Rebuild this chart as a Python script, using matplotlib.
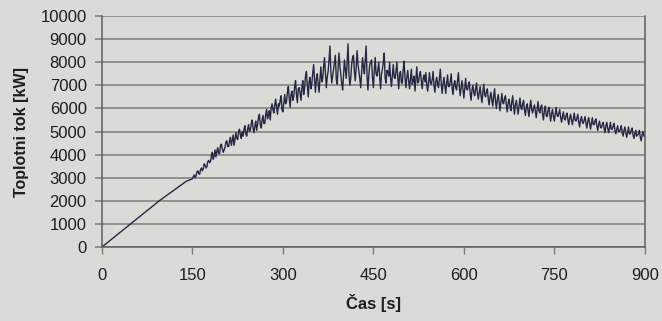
import numpy as np
import matplotlib
matplotlib.use('Agg')
import matplotlib.pyplot as plt

# ── Data ──────────────────────────────────────────────────────────────────────
# smooth ramp at the start
t_ramp = [0, 45, 95, 140]
q_ramp = [0, 950, 2000, 2850]

# noisy part, one value every 3 s from 150 s to 900 s (rows = 30 s)
t_noisy = np.arange(150, 901, 3)
q_noisy = [
    2950, 3120, 3080, 3300, 3150, 3420, 3400, 3550, 3480, 3750,   # 150
    3700, 4100, 3950, 3900, 4300, 4050, 4450, 4100, 4300, 4600,   # 180
    4350, 4750, 4600, 4400, 4950, 4650, 5100, 4700, 4800, 5250,   # 210
    4800, 5300, 5050, 5500, 4950, 5450, 5300, 5750, 5150, 5700,   # 240
    5350, 5950, 5700, 5500, 6200, 5800, 6400, 5750, 6100, 6550,   # 270
    5850, 6600, 6300, 6950, 6050, 6750, 6500, 7200, 6250, 6900,   # 300
    6350, 7200, 6900, 7600, 6500, 7350, 7050, 7900, 6700, 7500,   # 330
    6700, 7800, 7300, 8200, 6900, 7600, 8700, 7100, 7700, 8300,   # 360
    7050, 8400, 7500, 6800, 8100, 7300, 8800, 7000, 7900, 8300,   # 390
    7200, 8500, 7600, 6900, 8200, 7500, 8700, 6800, 7900, 8100,   # 420
    6900, 8200, 7400, 8000, 6850, 7700, 8400, 7100, 7600, 8000,   # 450
    6950, 7900, 7300, 8000, 6850, 7600, 7100, 8050, 6900, 7650,   # 480
    6850, 7700, 7200, 6750, 7800, 7150, 7600, 6850, 7450, 7550,   # 510
    6750, 7550, 7050, 7600, 6700, 7350, 6900, 7700, 6650, 7350,   # 540
    6650, 7450, 6950, 7500, 6600, 7200, 6800, 7550, 6550, 7200,   # 570
    6450, 7300, 6800, 7150, 6350, 7000, 6550, 7100, 6400, 6950,   # 600
    6250, 7050, 6500, 6850, 6150, 6700, 6100, 6850, 6000, 6600,   # 630
    5900, 6650, 6200, 6550, 5850, 6400, 5900, 6550, 5750, 6350,   # 660
    5750, 6450, 5950, 6350, 5700, 6200, 5650, 6350, 5800, 6150,   # 690
    5600, 6300, 5800, 6150, 5500, 6100, 5650, 6050, 5450, 5950,   # 720
    5450, 6050, 5650, 5950, 5400, 5850, 5500, 5800, 5300, 5750,   # 750
    5300, 5800, 5450, 5750, 5200, 5650, 5350, 5650, 5150, 5600,   # 780
    5100, 5600, 5300, 5550, 5050, 5450, 5150, 5400, 4950, 5400,   # 810
    4950, 5400, 5100, 5350, 4900, 5250, 5000, 5250, 4800, 5200,   # 840
    4750, 5200, 4900, 5150, 4700, 5050, 4850, 5050, 4600, 5000,   # 870
    4800,                                                         # 900
]

# in-between samples, at 151.5 s, 154.5 s, ... 898.5 s
t_mid = np.arange(151.5, 900, 3)
q_mid = [
    3050, 3000, 3250, 3180, 3350, 3300, 3600, 3420, 3700, 3650,   # 150
    3950, 3800, 4200, 4150, 4050, 4400, 4250, 4200, 4550, 4350,   # 180
    4600, 4400, 4850, 4650, 4700, 5000, 4850, 5000, 5100, 4900,   # 210
    5100, 5000, 5350, 5150, 5250, 5050, 5600, 5300, 5500, 5350,   # 240
    5750, 5550, 5900, 6000, 5950, 6150, 6050, 6200, 6350, 5950,   # 270
    6250, 6200, 6700, 6450, 6600, 6350, 6950, 6600, 6850, 6650,   # 300
    6900, 6600, 7400, 7000, 7150, 6850, 7550, 7250, 7300, 7050,   # 330
    7300, 7150, 7800, 7550, 7350, 8100, 7600, 7400, 8000, 7250,   # 360
    7700, 7850, 7100, 7400, 7700, 8000, 7500, 7300, 8200, 7600,   # 390
    7800, 7900, 7300, 7550, 7800, 8100, 7400, 7450, 8000, 7350,   # 420
    7600, 7500, 7700, 7350, 7500, 8000, 7300, 7650, 7400, 7300,   # 450
    7400, 7350, 7600, 7300, 7500, 7100, 7700, 7300, 7350, 7200,   # 480
    7300, 7050, 7400, 7250, 7100, 7450, 7200, 7300, 7150, 7000,   # 510
    7150, 7100, 7250, 7000, 7150, 7050, 7300, 7100, 7050, 7000,   # 540
    7100, 6950, 7150, 6900, 7050, 6900, 7200, 6950, 6900, 6850,   # 570
    6900, 6850, 7000, 6650, 6800, 6700, 6850, 6650, 6700, 6550,   # 600
    6700, 6600, 6750, 6400, 6500, 6350, 6550, 6300, 6400, 6250,   # 630
    6300, 6250, 6450, 6150, 6250, 6100, 6300, 6100, 6150, 6050,   # 660
    6100, 6050, 6200, 5950, 6050, 5900, 6100, 5950, 6000, 5900,   # 690
    5950, 5900, 6050, 5750, 5900, 5700, 5900, 5700, 5800, 5650,   # 720
    5750, 5700, 5800, 5600, 5650, 5550, 5700, 5500, 5600, 5500,   # 750
    5550, 5500, 5600, 5400, 5500, 5400, 5500, 5350, 5450, 5350,   # 780
    5350, 5300, 5450, 5250, 5300, 5200, 5300, 5150, 5250, 5150,   # 810
    5150, 5100, 5250, 5050, 5100, 5000, 5100, 4950, 5050, 4950,   # 840
    4950, 4900, 5050, 4850, 4900, 4800, 4900, 4750, 4850, 4800,   # 870
]

x_ticks = np.arange(0, 901, 150)
y_ticks = np.arange(0, 10001, 1000)

t = np.concatenate([t_ramp, t_noisy, t_mid])
q = np.concatenate([q_ramp, q_noisy, q_mid])
order = np.argsort(t)
t, q = t[order], q[order]

# ── Figure ────────────────────────────────────────────────────────────────────
plt.rcParams['font.family'] = ['Liberation Sans', 'DejaVu Sans']
bg = '#d9dbd6'
grid_c = '#7c7e7c'

fig = plt.figure(figsize=(6.62, 3.21), dpi=100, facecolor=bg)
ax = fig.add_axes([0.154, 0.2305, 0.82, 0.7195], facecolor=bg)

ax.plot(t, q, color='#252842', linewidth=1.0)

ax.set_xlim(0, 900)
ax.set_ylim(0, 10000)
ax.set_xticks(x_ticks)
ax.set_yticks(y_ticks)
ax.grid(axis='y', color=grid_c, linewidth=1.1)
ax.set_axisbelow(True)

ax.tick_params(axis='x', direction='out', length=5, width=1, color=grid_c,
               pad=10, labelsize=12, labelcolor='#1e1e1e')
ax.tick_params(axis='y', direction='out', length=5, width=1.1, color=grid_c,
               pad=6, labelsize=12, labelcolor='#1e1e1e')

for side in ['left', 'bottom', 'right']:
    ax.spines[side].set_color('#5e605e')
    ax.spines[side].set_linewidth(1.1)
ax.spines['top'].set_visible(False)

ax.set_xlabel('Čas [s]', fontsize=12, fontweight='bold', color='#1e1e1e', labelpad=8)
ax.set_ylabel('Toplotni tok [kW]', fontsize=11.5, fontweight='bold', color='#1e1e1e', labelpad=8)

plt.savefig('out.png', dpi=100, facecolor=bg)
plt.close()
